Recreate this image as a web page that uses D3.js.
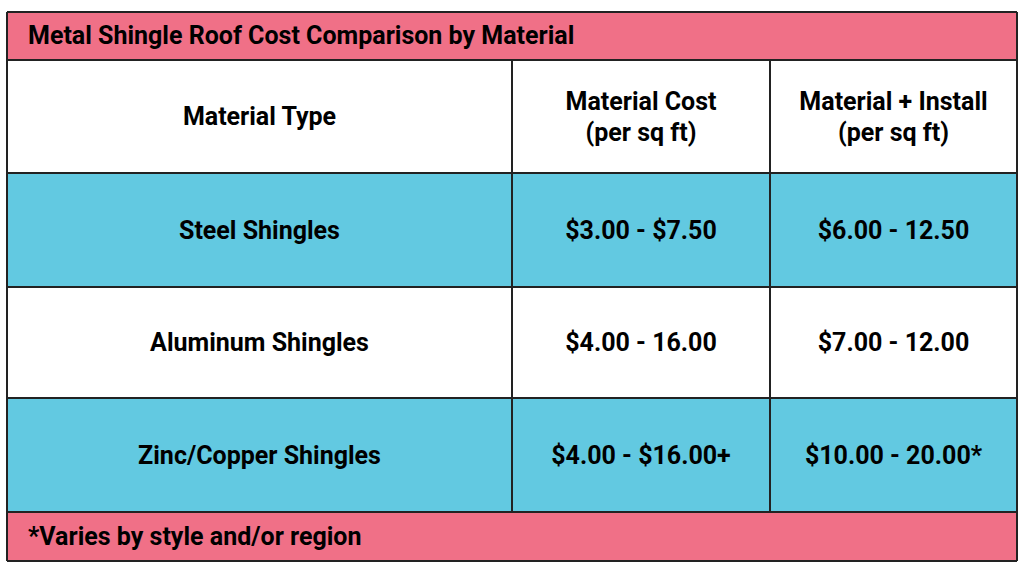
<!DOCTYPE html>
<html><head><meta charset="utf-8">
<script src="https://cdn.jsdelivr.net/npm/d3@7"></script>
<style>body{margin:0;background:#fff}</style>
</head><body>
<svg id="chart"></svg>
<script>
const title = 'Metal Shingle Roof Cost Comparison by Material';
const footnote = '*Varies by style and/or region';
const headers = [['Material Type'], ['Material Cost', '(per sq ft)'], ['Material + Install', '(per sq ft)']];
const materials = ['Steel Shingles', 'Aluminum Shingles', 'Zinc/Copper Shingles'];
const materialCost = ['$3.00 - $7.50', '$4.00 - 16.00', '$4.00 - $16.00+'];
const installCost = ['$6.00 - 12.50', '$7.00 - 12.00', '$10.00 - 20.00*'];

const width = 1024, height = 569;
const pink = '#f07087', blue = '#62c9e1';
const svg = d3.select('#chart').attr('width', width).attr('height', height)
  .style('font-family', 'Roboto, sans-serif').style('font-weight', 'bold');

const left = 7, right = 1017;
const colX = [left, 512, 770, right];
const rowY = [12, 60, 173, 287, 398, 512, 561];

// band fills
const fills = [pink, '#fff', blue, '#fff', blue, pink];
svg.selectAll('rect.band').data(fills).join('rect')
  .attr('x', left).attr('width', right - left)
  .attr('y', (d, i) => rowY[i]).attr('height', (d, i) => rowY[i + 1] - rowY[i])
  .attr('fill', d => d);

// grid lines
const line = (x1, y1, x2, y2) => svg.append('line').attr('x1', x1).attr('y1', y1).attr('x2', x2).attr('y2', y2)
  .attr('stroke', '#222').attr('stroke-width', 2);
rowY.forEach(y => line(left, y, right, y));
line(left, rowY[0], left, rowY[6]);
line(right, rowY[0], right, rowY[6]);
[1, 2].forEach(c => line(colX[c], rowY[1], colX[c], rowY[5]));

svg.append('text').attr('x', 28).attr('y', 44).attr('font-size', 25).text(title);
svg.append('text').attr('x', 28).attr('y', 545).attr('font-size', 25).text(footnote);

const cell = (c, r, lines) => {
  const cx = (colX[c] + colX[c + 1]) / 2, cy = (rowY[r] + rowY[r + 1]) / 2;
  const lh = 31;
  lines.forEach((t, i) => {
    svg.append('text').attr('x', cx).attr('y', cy + (i - (lines.length - 1) / 2) * lh)
      .attr('dy', '0.35em').attr('text-anchor', 'middle').attr('font-size', 25).text(t);
  });
};
headers.forEach((h, c) => cell(c, 1, h));
materials.forEach((m, i) => {
  cell(0, i + 2, [m]);
  cell(1, i + 2, [materialCost[i]]);
  cell(2, i + 2, [installCost[i]]);
});
</script>
</body></html>
